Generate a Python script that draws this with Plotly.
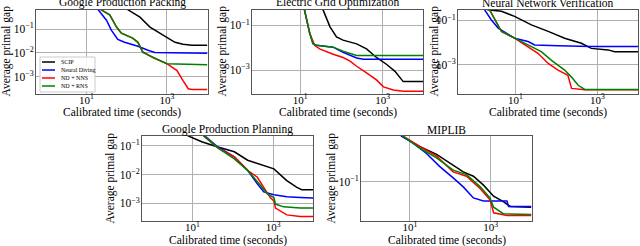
import plotly.graph_objects as go

FONT = "Liberation Serif"

titles = ["Google Production Packing", "Electric Grid Optimization", "Neural Network Verification",
          "Google Production Planning", "MIPLIB"]
series_names = ["SCIP", "Neural Diving", "ND + NNS", "ND + RNS"]
series_colors = ["#000000", "#0000ff", "#ff0000", "#008000"]
x_tick_vals = [10, 1000]
x_tick_text = ["10<sup>1</sup>", "10<sup>3</sup>"]

# ---- Panel 1: Google Production Packing ----
p1_scip_t = [0.56, 79, 100, 214, 380, 1000, 1585, 2512, 4169, 10000]
p1_scip_g = [1, 1, 0.71, 0.32, 0.123, 0.046, 0.028, 0.023, 0.021, 0.021]
p1_nd_t = [0.56, 15.8, 19, 31.6, 41.7, 60.3, 89.1, 190.5, 338.8, 501, 10000]
p1_nd_g = [1, 1, 0.71, 0.24, 0.091, 0.037, 0.028, 0.019, 0.0129, 0.0105, 0.0098]
p1_nns_t = [0.56, 17.8, 21.4, 38, 56.2, 74.1, 141, 190.5, 251, 447, 1000, 1778, 2512, 3388, 4169, 10000]
p1_nns_g = [1, 1, 0.71, 0.4, 0.123, 0.068, 0.042, 0.028, 0.0112, 0.0063, 0.0035, 0.0018, 0.00068, 0.00031, 0.00029, 0.00029]
p1_rns_t = [0.56, 17.8, 21.4, 38, 56.2, 74.1, 141, 190.5, 251, 447, 1000, 10000]
p1_rns_g = [1, 1, 0.71, 0.4, 0.123, 0.068, 0.042, 0.028, 0.0105, 0.0065, 0.0035, 0.0032]

# ---- Panel 2: Electric Grid Optimization ----
p2_scip_t = [0.7, 31.6, 35.5, 52.5, 75.9, 109.6, 234, 407, 708, 1259, 1995, 2630, 3162, 10000]
p2_scip_g = [1, 1, 0.52, 0.089, 0.031, 0.022, 0.015, 0.0089, 0.0037, 0.0018, 0.00089, 0.00045, 0.00031, 0.00031]
p2_nd_t = [0.7, 11.2, 12.6, 17, 20.4, 24.5, 63.1, 109.6, 234, 339, 10000]
p2_nd_g = [1, 1, 0.52, 0.045, 0.0151, 0.0129, 0.0107, 0.0063, 0.0035, 0.0031, 0.0031]
p2_nns_t = [0.7, 11.2, 12.6, 17, 22.4, 29.5, 63.1, 109.6, 158.5, 234, 407, 708, 1047, 1820, 3162, 10000]
p2_nns_g = [1, 1, 0.52, 0.045, 0.0129, 0.0089, 0.0052, 0.0037, 0.0026, 0.0015, 0.00076, 0.00037, 0.00018, 0.00013, 0.000115, 0.000115]
p2_rns_t = [0.7, 11.2, 12.6, 17, 20.4, 24.5, 63.1, 109.6, 234, 10000]
p2_rns_g = [1, 1, 0.52, 0.045, 0.0151, 0.0129, 0.0107, 0.0071, 0.0045, 0.0045]

# ---- Panel 3: Neural Network Verification ----
p3_scip_t = [0.4, 1.78, 2.14, 4.57, 9.55, 24.5, 63.1, 158.5, 407, 708, 1820, 2630, 10000]
p3_scip_g = [1, 1, 0.3, 0.257, 0.151, 0.063, 0.032, 0.0158, 0.0093, 0.0055, 0.0047, 0.0039, 0.0039]
p3_nd_t = [0.4, 1.41, 1.78, 2.57, 3.8, 5.5, 9.55, 20.4, 29.5, 109.6, 708, 10000]
p3_nd_g = [1, 1, 0.3, 0.107, 0.045, 0.0295, 0.0158, 0.0112, 0.0078, 0.0072, 0.0066, 0.0066]
p3_nns_t = [0.4, 2.0, 2.34, 3.16, 4.57, 9.55, 17, 35.5, 63.1, 109.6, 190.5, 234, 490, 10000]
p3_nns_g = [1, 1, 0.3, 0.107, 0.0316, 0.0158, 0.0078, 0.0033, 0.00115, 0.00058, 0.00034, 0.000087, 0.000076, 0.000076]
p3_rns_t = [0.4, 2.0, 2.34, 3.16, 4.57, 9.55, 20.4, 42.7, 75.9, 158.5, 234, 339, 490, 10000]
p3_rns_g = [1, 1, 0.3, 0.107, 0.0316, 0.0158, 0.0078, 0.0039, 0.0016, 0.00058, 0.00028, 0.00012, 0.000078, 0.000078]

# ---- Panel 4: Google Production Planning ----
p4_scip_t = [0.58, 6.3, 7.9, 17, 42.7, 109.6, 234, 490, 1047, 2188, 3890, 5129, 10000]
p4_scip_g = [1, 1, 0.22, 0.138, 0.091, 0.062, 0.0316, 0.0229, 0.0158, 0.0062, 0.0036, 0.003, 0.003]
p4_nd_t = [0.58, 15.8, 20.4, 42.7, 109.6, 234, 407, 589, 1047, 2188, 4677, 10000]
p4_nd_g = [1, 1, 0.22, 0.091, 0.041, 0.0141, 0.0048, 0.0025, 0.002, 0.0017, 0.00162, 0.00155]
p4_nns_t = [0.58, 15.8, 19, 42.7, 109.6, 234, 407, 589, 851, 1047, 1148, 2188, 4677, 10000]
p4_nns_g = [1, 1, 0.22, 0.085, 0.041, 0.0141, 0.0081, 0.0036, 0.0016, 0.00123, 0.00069, 0.0004, 0.00035, 0.00035]
p4_rns_t = [0.58, 15.8, 19, 42.7, 109.6, 234, 490, 708, 1047, 1148, 1820, 4677, 10000]
p4_rns_g = [1, 1, 0.22, 0.085, 0.035, 0.0141, 0.0042, 0.0022, 0.0016, 0.00095, 0.00076, 0.00069, 0.00069]

# ---- Panel 5: MIPLIB ----
p5_scip_t = [0.6, 5, 6.2, 17.8, 45.7, 117.5, 209, 372, 661, 1175, 2042, 3020, 10000]
p5_scip_g = [1, 1, 0.33, 0.25, 0.204, 0.155, 0.129, 0.115, 0.091, 0.068, 0.059, 0.052, 0.051]
p5_nd_t = [0.6, 5, 6.2, 12, 25.7, 55, 117.5, 209, 372, 661, 2512, 2754, 10000]
p5_nd_g = [1, 1, 0.33, 0.275, 0.209, 0.148, 0.11, 0.087, 0.065, 0.06, 0.06, 0.052, 0.052]
p5_nns_t = [0.6, 5.6, 6.8, 17.8, 45.7, 117.5, 251, 550, 955, 1175, 2512, 10000]
p5_nns_g = [1, 1, 0.33, 0.25, 0.195, 0.129, 0.115, 0.083, 0.062, 0.044, 0.041, 0.041]
p5_rns_t = [0.6, 5.6, 6.8, 17.8, 45.7, 117.5, 251, 550, 955, 1175, 2042, 10000]
p5_rns_g = [1, 1, 0.33, 0.24, 0.186, 0.135, 0.12, 0.087, 0.065, 0.051, 0.043, 0.042]

panels = [
    [(p1_scip_t, p1_scip_g), (p1_nd_t, p1_nd_g), (p1_nns_t, p1_nns_g), (p1_rns_t, p1_rns_g)],
    [(p2_scip_t, p2_scip_g), (p2_nd_t, p2_nd_g), (p2_nns_t, p2_nns_g), (p2_rns_t, p2_rns_g)],
    [(p3_scip_t, p3_scip_g), (p3_nd_t, p3_nd_g), (p3_nns_t, p3_nns_g), (p3_rns_t, p3_rns_g)],
    [(p4_scip_t, p4_scip_g), (p4_nd_t, p4_nd_g), (p4_nns_t, p4_nns_g), (p4_rns_t, p4_rns_g)],
    [(p5_scip_t, p5_scip_g), (p5_nd_t, p5_nd_g), (p5_nns_t, p5_nns_g), (p5_rns_t, p5_rns_g)],
]
y_tick_vals = [[0.1, 0.01, 0.001], [0.1, 0.001], [0.1, 0.001], [0.1, 0.01, 0.001], [0.1]]
y_tick_text = [["10<sup>−1</sup>", "10<sup>−2</sup>", "10<sup>−3</sup>"],
               ["10<sup>−1</sup>", "10<sup>−3</sup>"],
               ["10<sup>−1</sup>", "10<sup>−3</sup>"],
               ["10<sup>−1</sup>", "10<sup>−2</sup>", "10<sup>−3</sup>"],
               ["10<sup>−1</sup>"]]

# layout (pixels)
W, H = 640, 246
px_x = [(36, 208), (252, 423), (458, 638), (142, 313), (361, 532)]
px_y = [(9.5, 93.5), (9.5, 93.5), (9.5, 93.5), (136, 221), (136, 221)]
x_ranges = [(-0.25, 4.02), (-0.17, 3.98), (-0.40, 3.99), (-0.25, 3.99), (-0.21, 4.02)]
y_ranges = [(-3.71, -0.17), (-4.04, -0.29), (-4.29, -0.51), (-3.61, -0.66), (-1.45, -0.48)]
ylab_off = [30, 30, 24, 32, 30]
FS = 11.5

fig = go.Figure()
layout = dict(
    width=W, height=H, margin=dict(l=0, r=0, t=0, b=0),
    paper_bgcolor="white", plot_bgcolor="white",
    font=dict(family=FONT, size=FS, color="black"),
    showlegend=False,
)
annotations = []
shapes = []
for i in range(5):
    k = "" if i == 0 else str(i + 1)
    x0, x1 = px_x[i]
    yt, yb = px_y[i]
    for j, (t, g) in enumerate(panels[i]):
        fig.add_trace(go.Scatter(x=t, y=g, mode="lines", name=series_names[j],
                                 line=dict(color=series_colors[j], width=1.5),
                                 xaxis="x" + k, yaxis="y" + k))
    layout["xaxis" + k] = dict(
        domain=[x0 / W, x1 / W], anchor="y" + k, type="log", range=list(x_ranges[i]),
        tickvals=x_tick_vals, ticktext=x_tick_text, ticks="", ticklabelstandoff=-4,
        showgrid=True, gridcolor="#b0b0b0", gridwidth=1,
        showline=True, linecolor="#555555", linewidth=1, mirror=True,
        zeroline=False, tickfont=dict(family=FONT, size=11, color="black"))
    layout["yaxis" + k] = dict(
        domain=[1 - yb / H, 1 - yt / H], anchor="x" + k, type="log", range=list(y_ranges[i]),
        tickvals=y_tick_vals[i], ticktext=y_tick_text[i], ticks="", ticklabelstandoff=-1,
        showgrid=True, gridcolor="#b0b0b0", gridwidth=1,
        showline=True, linecolor="#555555", linewidth=1, mirror=True,
        zeroline=False, tickfont=dict(family=FONT, size=FS, color="black"))
    annotations.append(dict(text=titles[i], x=(x0 + x1) / 2 / W, y=1 - yt / H,
                            xref="paper", yref="paper", xanchor="center", yanchor="bottom",
                            showarrow=False, font=dict(family=FONT, size=FS, color="black"),
                            yshift=-2))
    annotations.append(dict(text="Calibrated time (seconds)", x=(x0 + x1) / 2 / W,
                            y=1 - (yb + 19) / H, xref="paper", yref="paper",
                            xanchor="center", yanchor="middle", showarrow=False,
                            font=dict(family=FONT, size=FS, color="black")))
    annotations.append(dict(text="Average primal gap", x=(x0 - ylab_off[i]) / W,
                            y=1 - (yt + yb) / 2 / H, xref="paper", yref="paper",
                            xanchor="center", yanchor="middle", textangle=-90, showarrow=False,
                            font=dict(family=FONT, size=FS, color="black")))

# legend box inside the first panel (drawn by hand so it can be as compact as the reference)
leg_l, leg_r, leg_t, leg_b = 40, 95, 57, 92
shapes.append(dict(type="rect", xref="paper", yref="paper",
                   x0=leg_l / W, x1=leg_r / W, y0=1 - leg_b / H, y1=1 - leg_t / H,
                   line=dict(color="#cccccc", width=1), fillcolor="rgba(255,255,255,0.9)",
                   layer="above"))
for j, name in enumerate(series_names):
    ry = 62 + j * 8
    shapes.append(dict(type="line", xref="paper", yref="paper",
                       x0=42 / W, x1=55 / W, y0=1 - ry / H, y1=1 - ry / H,
                       line=dict(color=series_colors[j], width=1.5), layer="above"))
    annotations.append(dict(text=name, x=59 / W, y=1 - ry / H, xref="paper", yref="paper",
                            xanchor="left", yanchor="middle", showarrow=False,
                            font=dict(family=FONT, size=6, color="black")))

layout["annotations"] = annotations
layout["shapes"] = shapes
fig.update_layout(**layout)
fig.write_html("out.html", config={"displayModeBar": False},
               post_script="document.body.style.margin='0';")
